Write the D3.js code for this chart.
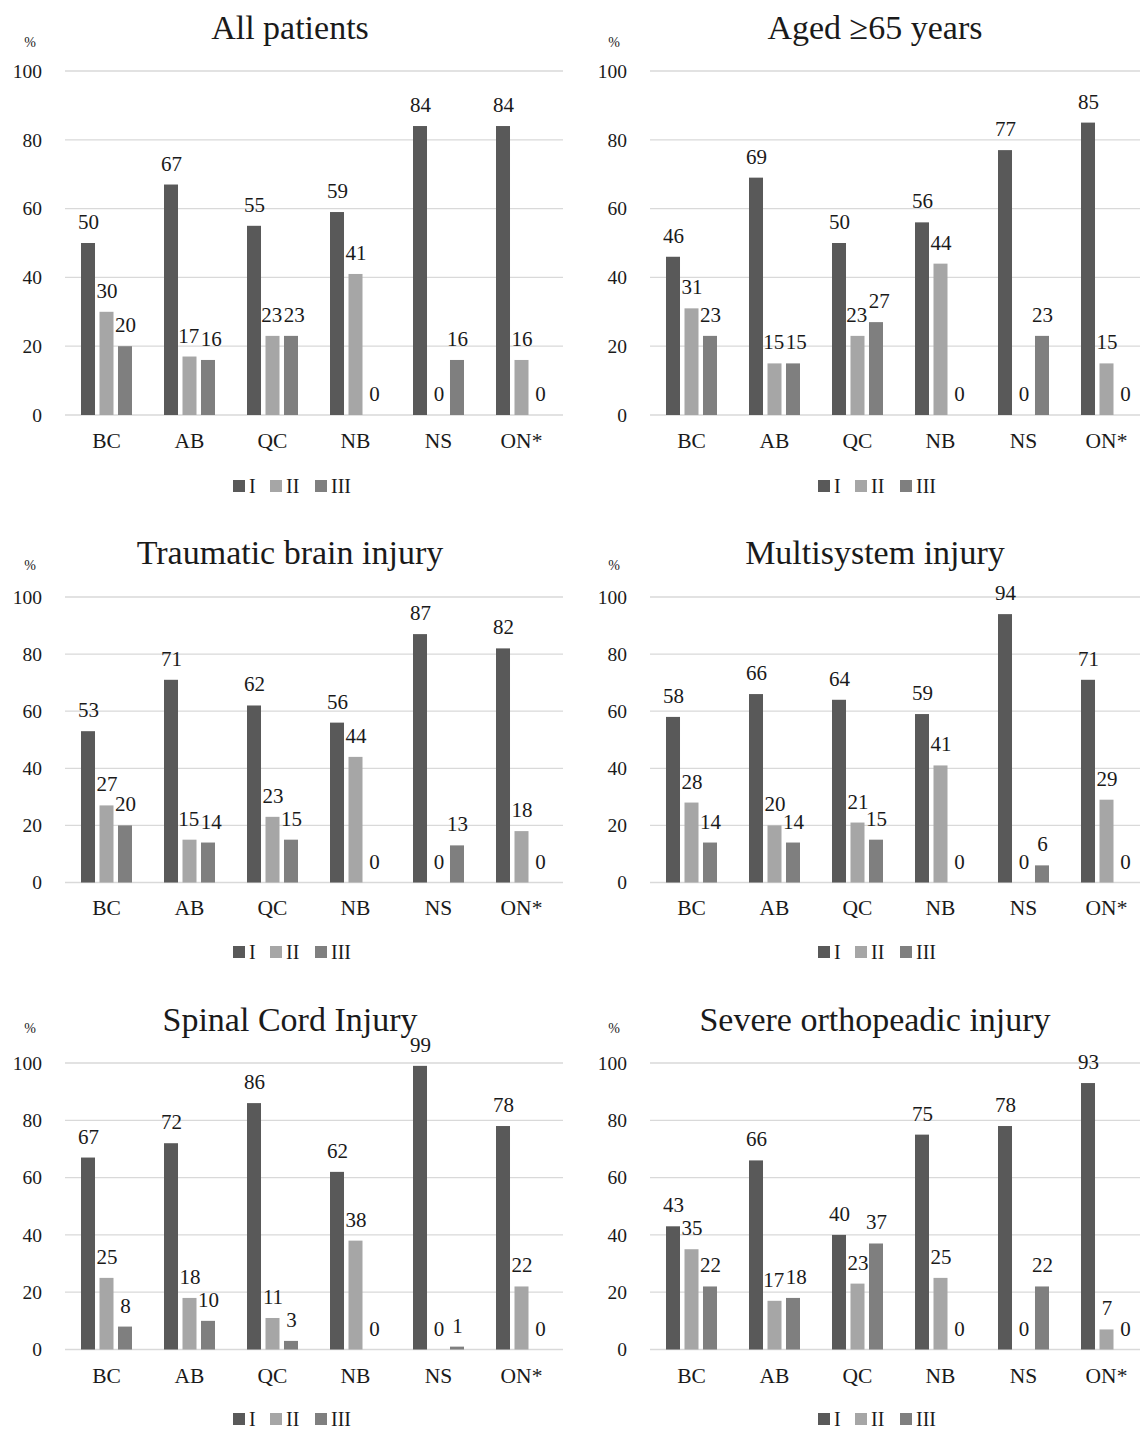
<!DOCTYPE html>
<html>
<head>
<meta charset="utf-8">
<script src="https://cdn.jsdelivr.net/npm/d3@7"></script>
<style>
  html, body { margin: 0; padding: 0; background: #fff; }
  svg { display: block; }
  text { font-family: "Liberation Serif", "Times New Roman", serif; fill: #1a1a1a; }
</style>
</head>
<body>
<svg id="chart" width="1140" height="1429"></svg>
<script>
// Provinces and the three response levels
const categories = ["BC", "AB", "QC", "NB", "NS", "ON*"];
const seriesNames = ["I", "II", "III"];
const yTicks = [0, 20, 40, 60, 80, 100];
const panelTitles = [
  "All patients", "Aged \u226565 years",
  "Traumatic brain injury", "Multisystem injury",
  "Spinal Cord Injury", "Severe orthopeadic injury"
];

// Percentages per panel: one row per series (I, II, III), one value per province
const allPatients   = [[50, 67, 55, 59, 84, 84], [30, 17, 23, 41, 0, 16], [20, 16, 23, 0, 16, 0]];
const aged65        = [[46, 69, 50, 56, 77, 85], [31, 15, 23, 44, 0, 15], [23, 15, 27, 0, 23, 0]];
const brainInjury   = [[53, 71, 62, 56, 87, 82], [27, 15, 23, 44, 0, 18], [20, 14, 15, 0, 13, 0]];
const multisystem   = [[58, 66, 64, 59, 94, 71], [28, 20, 21, 41, 0, 29], [14, 14, 15, 0, 6, 0]];
const spinalCord    = [[67, 72, 86, 62, 99, 78], [25, 18, 11, 38, 0, 22], [8, 10, 3, 0, 1, 0]];
const orthopaedic   = [[43, 66, 40, 75, 78, 93], [35, 17, 23, 25, 0, 7], [22, 18, 37, 0, 22, 0]];
const panelData = [allPatients, aged65, brainInjury, multisystem, spinalCord, orthopaedic];

const colors = { I: "#595959", II: "#a6a6a6", III: "#7f7f7f" };

// Grid of panels: columns (x extents) and rows (y extents)
const cols = [
  { left: 65,  right: 563,  titleX: 290, tickX: 42,  pctX: 30,  legendX: 233 },
  { left: 650, right: 1148, titleX: 875, tickX: 627, pctX: 614, legendX: 818 }
];
const rows = [
  { titleY: 39,   pctY: 47,   top: 71,   bottom: 415,    catY: 448,  legendY: 486 },
  { titleY: 564,  pctY: 570,  top: 597,  bottom: 882.5,  catY: 915,  legendY: 952 },
  { titleY: 1031, pctY: 1033, top: 1063, bottom: 1349.5, catY: 1383, legendY: 1419 }
];

const svg = d3.select("#chart");

panelData.forEach((data, i) => {
  const col = cols[i % 2];
  const row = rows[Math.floor(i / 2)];
  const g = svg.append("g");

  const x0 = d3.scaleBand().domain(categories).range([col.left, col.right]).padding(0);
  const groupW = 51;
  const x1 = d3.scaleBand().domain(seriesNames).range([0, groupW]).paddingInner(0.243).paddingOuter(0);
  const y = d3.scaleLinear().domain([0, 100]).range([row.bottom, row.top]);

  // horizontal gridlines
  g.selectAll("line.grid").data(yTicks).join("line")
    .attr("class", "grid")
    .attr("x1", col.left).attr("x2", col.right)
    .attr("y1", d => y(d)).attr("y2", d => y(d))
    .attr("stroke", "#d9d9d9").attr("stroke-width", 1.3);

  // y tick labels
  const yAxis = d3.axisLeft(y).tickValues(yTicks).tickSize(0).tickPadding(0);
  const ya = g.append("g").attr("transform", `translate(${col.tickX},0)`).call(yAxis);
  ya.select(".domain").remove();
  ya.selectAll("text").attr("font-size", 19.5).attr("fill", "#1a1a1a")
    .style("font-family", "'Liberation Serif', serif");

  // unit label
  g.append("text").attr("x", col.pctX).attr("y", row.pctY)
    .attr("text-anchor", "middle").attr("font-size", 14).text("%");

  // title
  g.append("text").attr("x", col.titleX).attr("y", row.titleY)
    .attr("text-anchor", "middle").attr("font-size", 34).text(panelTitles[i]);

  // bars + value labels
  const offset = (x0.bandwidth() - groupW) / 2;
  const cells = [];
  seriesNames.forEach((s, si) => {
    categories.forEach((c, ci) => cells.push({ s, si, c, v: data[si][ci] }));
  });

  g.selectAll("rect.bar").data(cells).join("rect")
    .attr("class", "bar")
    .attr("x", d => x0(d.c) + offset + x1(d.s))
    .attr("width", x1.bandwidth())
    .attr("y", d => y(d.v))
    .attr("height", d => y(0) - y(d.v))
    .attr("fill", d => colors[d.s]);

  const labels = g.selectAll("text.val").data(cells).join("text")
    .attr("class", "val")
    .attr("y", d => y(d.v) - 14)
    .attr("text-anchor", "middle")
    .attr("font-size", 21)
    .text(d => d.v);

  // start each label centred over its bar, then nudge neighbours apart
  labels.each(function (d) {
    d.lx = x0(d.c) + offset + x1(d.s) + x1.bandwidth() / 2 + 0.5;
    d.ly = y(d.v) - 14;
    d.w = this.getComputedTextLength();
  });
  categories.forEach(c => {
    const group = cells.filter(d => d.c === c).sort((a, b) => a.si - b.si);
    for (let k = 0; k < group.length - 1; k++) {
      const a = group[k], b = group[k + 1];
      if (Math.abs(a.ly - b.ly) < 15) {
        const gap = (b.lx - b.w / 2) - (a.lx + a.w / 2);
        if (gap < 1.5) {
          const push = (1.5 - gap);
          b.lx += push * 0.7;
          a.lx -= push * 0.3;
        }
      }
    }
  });
  labels.attr("x", d => d.lx);

  // category axis labels
  const xAxis = d3.axisBottom(x0).tickSize(0).tickPadding(0);
  const xa = g.append("g").attr("transform", `translate(0,${row.catY})`).call(xAxis);
  xa.select(".domain").remove();
  xa.selectAll("text").attr("font-size", 21.5).attr("fill", "#1a1a1a").attr("dy", 0)
    .style("font-family", "'Liberation Serif', serif");

  // legend
  const legendOffsets = [0, 37, 82];
  const lg = g.append("g").attr("transform", `translate(${col.legendX},${row.legendY})`);
  seriesNames.forEach((s, si) => {
    const item = lg.append("g").attr("transform", `translate(${legendOffsets[si]},0)`);
    item.append("rect").attr("x", 0).attr("y", -6).attr("width", 12).attr("height", 12)
      .attr("fill", colors[s]);
    item.append("text").attr("x", 16).attr("y", 7).attr("font-size", 20).text(s);
  });
});
</script>
</body>
</html>
